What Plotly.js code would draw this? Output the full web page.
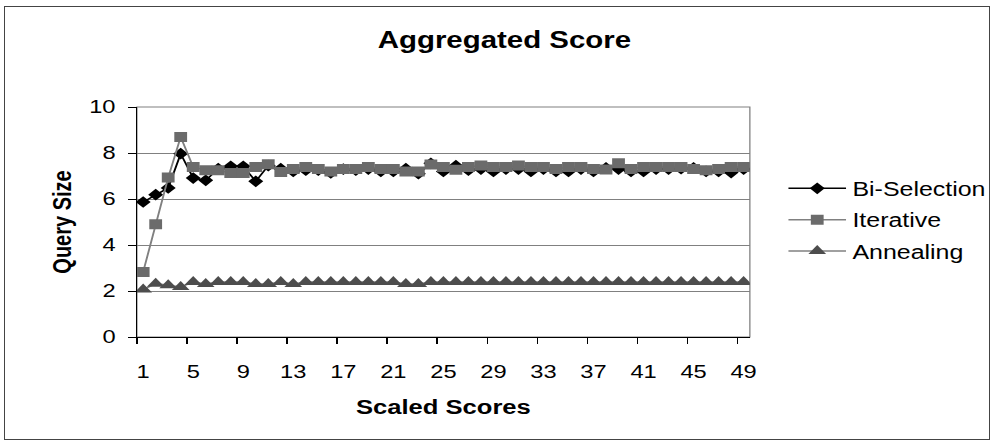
<!DOCTYPE html>
<html><head><meta charset="utf-8">
<script src="https://cdn.plot.ly/plotly-3.0.1.min.js"></script>
<style>
html,body{margin:0;padding:0;background:#fff;overflow:hidden;width:993px;height:444px;}
#chart{position:absolute;left:0;top:0;width:776px;height:444px;transform:scaleX(1.279639);transform-origin:0 0;}
#frame{position:absolute;left:4px;top:6px;width:984px;height:432px;border:1px solid #444;pointer-events:none;}
</style></head><body>
<div id="chart"></div><div id="frame"></div>
<script>
// ---- data ----
const categories = [1,2,3,4,5,6,7,8,9,10,11,12,13,14,15,16,17,18,19,20,21,22,23,24,25,26,27,28,29,30,31,32,33,34,35,36,37,38,39,40,41,42,43,44,45,46,47,48,49];
const tickLabels = ["1","5","9","13","17","21","25","29","33","37","41","45","49"];
const biSelection = [5.87,6.19,6.48,7.97,6.91,6.81,7.32,7.42,7.42,6.77,
  7.45,7.32,7.2,7.25,7.25,7.13,7.3,7.25,7.3,7.2,
  7.2,7.32,7.1,7.55,7.2,7.45,7.25,7.3,7.2,7.3,
  7.3,7.2,7.3,7.2,7.2,7.3,7.2,7.35,7.3,7.2,
  7.2,7.3,7.3,7.32,7.35,7.2,7.2,7.15,7.3];
const iterative = [2.83,4.9,6.93,8.7,7.39,7.25,7.25,7.13,7.13,7.39,
  7.51,7.17,7.3,7.39,7.3,7.2,7.3,7.3,7.39,7.3,
  7.3,7.2,7.2,7.5,7.39,7.27,7.39,7.46,7.39,7.39,
  7.46,7.39,7.39,7.3,7.39,7.39,7.3,7.28,7.55,7.3,
  7.39,7.39,7.39,7.39,7.3,7.25,7.3,7.39,7.39];
const annealing = [2.06,2.32,2.25,2.17,2.39,2.3,2.39,2.39,2.39,2.3,
  2.3,2.39,2.3,2.39,2.39,2.39,2.39,2.39,2.39,2.39,
  2.39,2.3,2.3,2.39,2.39,2.39,2.39,2.39,2.39,2.39,
  2.39,2.39,2.39,2.39,2.39,2.39,2.39,2.39,2.39,2.39,
  2.39,2.39,2.39,2.39,2.39,2.39,2.39,2.39,2.39];
const seriesNames = ["Bi-Selection","Iterative","Annealing"];

// ---- layout (chart drawn at narrower width, then stretched horizontally like the original) ----
const S = 993/776;
const W = 776, H = 444;
const plotL = 137/S, plotR = 750/S;
const FONT = "Liberation Sans, Arial, sans-serif";

const traces = [
  {x: categories, y: biSelection, name: seriesNames[0], legendgroup:"a", mode:"lines+markers", type:"scatter",
   line:{color:"#000000", width:1.5}, marker:{symbol:"diamond", size:9, color:"#000000"}},
  {x: categories, y: iterative, name: seriesNames[1], legendgroup:"b", mode:"lines+markers", type:"scatter",
   line:{color:"#808080", width:1.5}, marker:{symbol:"square", size:10, color:"#6b6b6b"}},
  {x: categories, y: annealing, name: seriesNames[2], legendgroup:"c", mode:"lines+markers", type:"scatter",
   line:{color:"#808080", width:1.5}, marker:{symbol:"triangle-up", size:12, color:"#4d4d4d"}}
];

const layout = {
  width: W, height: H,
  margin: {l: plotL, r: W - plotR, t: 106.7, b: 107.3, pad: 0, autoexpand: false},
  paper_bgcolor: "#ffffff", plot_bgcolor: "#ffffff",
  font: {family: FONT, color: "#000000", size: 18.5},
  title: {text: "Aggregated Score", font: {family: FONT, size: 23, weight: "bold", color:"#000"},
          x: 0.508, xref: "container", xanchor: "center", y: 1 - 40/444, yref: "container", yanchor: "middle"},
  xaxis: {
    type: "linear", range: [0.5, 49.5], fixedrange: true,
    tickmode: "array", tickvals: tickLabels.map(Number), ticktext: tickLabels,
    ticks: "", ticklabelstandoff: 18,
    minor: {tickmode: "array", tickvals: tickLabels.map(v => Number(v) - 0.5),
            ticks: "outside", ticklen: 6, tickwidth: 1, tickcolor: "#000", showgrid: false},
    showgrid: false, zeroline: false, showline: true, linecolor: "#000", linewidth: 1,
    tickfont: {family: FONT, size: 18.5, color: "#000"},
    title: {text: "Scaled Scores", font: {family: FONT, size: 20, weight: "bold", color: "#000"}, standoff: 18}
  },
  yaxis: {
    range: [0, 10], tick0: 0, dtick: 2, fixedrange: true,
    ticks: "outside", ticklen: 6, tickwidth: 1, tickcolor: "#000",
    ticklabelstandoff: 6,
    showgrid: true, gridcolor: "#808080", gridwidth: 1,
    zeroline: false, showline: true, linecolor: "#000", linewidth: 1,
    tickfont: {family: FONT, size: 18.5, color: "#000"},
    title: {text: "Query Size", font: {family: FONT, size: 20, weight: "bold", color: "#000"}, standoff: 8}
  },
  legend: {x: 1.0525, y: 0.73, xanchor: "left", yanchor: "top", bgcolor: "rgba(0,0,0,0)",
           font: {family: FONT, size: 19.5, color: "#000"}, tracegroupgap: 3, itemwidth: 45},
  shapes: [{type: "rect", xref: "paper", yref: "paper", x0: 0, x1: 1, y0: 0, y1: 1,
            line: {color: "#808080", width: 1}, layer: "below"}],
  showlegend: true
};

Plotly.newPlot("chart", traces, layout, {displayModeBar: false, staticPlot: true});
</script>
</body></html>
